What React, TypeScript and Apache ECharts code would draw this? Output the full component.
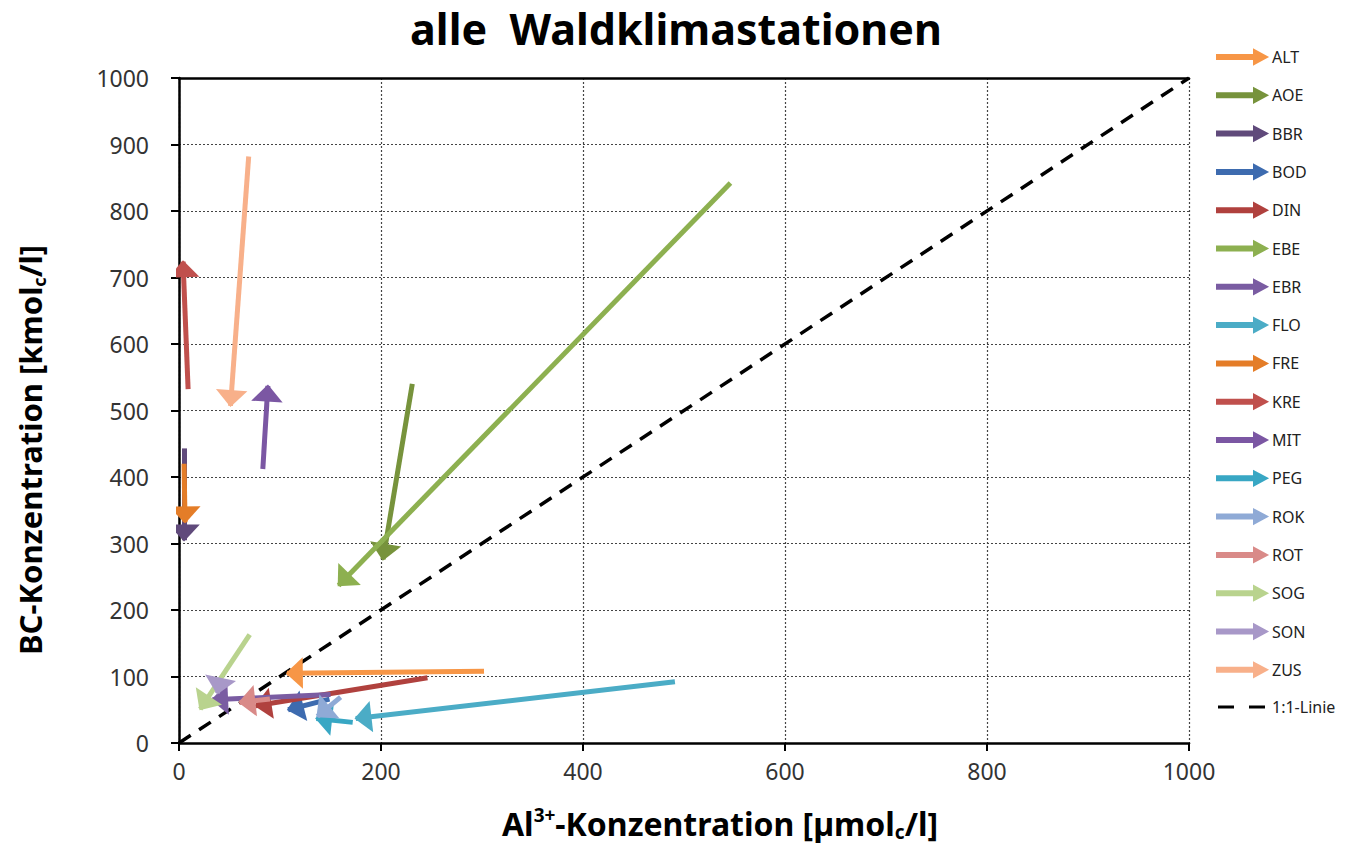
import React, { useEffect, useRef } from "react";
import * as echarts from "echarts";

const stations = ["ALT", "AOE", "BBR", "BOD", "DIN", "EBE", "EBR", "FLO", "FRE", "KRE", "MIT", "PEG", "ROK", "ROT", "SOG", "SON", "ZUS"];
const colors = ["#F79646", "#77933C", "#604A7B", "#3D6BAF", "#B0413E", "#8DB050", "#7A5CA2", "#4BACC6", "#E47D28", "#C0504D", "#7B57A3", "#38A7C4", "#8FAAD6", "#D98A88", "#B9D38E", "#A898C8", "#F8B08A"];
const alStart = [302, 231, 5, 149, 246, 546, 150, 491, 5, 9, 83, 172, 160, 90, 70, 41, 69];
const bcStart = [108, 540, 443, 66, 98, 842, 73, 92, 420, 532, 412, 31, 69, 66, 163, 97, 882];
const alEnd = [107, 202, 5, 108, 76, 158, 33, 175, 6, 4, 88, 136, 137, 60, 21, 38, 51];
const bcEnd = [105, 276, 305, 50, 56, 237, 65, 37, 332, 724, 537, 37, 40, 61, 51, 75, 507];
const diagonal = [[0, 0], [1000, 1000]];
const xTicks = { min: 0, max: 1000, interval: 200 };
const yTicks = { min: 0, max: 1000, interval: 100 };

const arrowIcon = "path://M0,0M50,18M0,7L37,7L37,2L50,9L37,16L37,11L0,11Z";
const dashIcon = "path://M0,0M50,18M1,7.5L17,7.5L17,10.5L1,10.5ZM32,7.5L48,7.5L48,10.5L32,10.5Z";
// triangle whose apex sits near the centre of its bounding box, so the tip lands on the end point
const headSymbol = "path://M10,-17M10,0L20,20L0,20Z";

export default function App() {
  const ref = useRef<HTMLDivElement>(null);
  useEffect(() => {
    const chart = echarts.init(ref.current!, null, { renderer: "svg" });
    const arrowSeries = stations.map((name, i) => ({
      name,
      type: "lines",
      coordinateSystem: "cartesian2d",
      symbol: ["none", headSymbol],
      symbolSize: [17, 31.5],
      lineStyle: { color: colors[i], width: 5, opacity: 1, cap: "butt" },
      itemStyle: { color: colors[i] },
      color: colors[i],
      z: 5,
      data: [{ coords: [[alStart[i], bcStart[i]], [alEnd[i], bcEnd[i]]] }],
    }));
    const labelFmt = (v: number) => String(v);
    const option: any = {
      animation: false,
      backgroundColor: "#ffffff",
      title: {
        text: "alle  Waldklimastationen",
        left: "center",
        top: 2,
        textStyle: { fontFamily: "Noto Sans", fontWeight: "bold", fontSize: 43, color: "#000" },
      },
      legend: {
        orient: "vertical",
        left: 1211,
        top: 42,
        itemWidth: 50,
        itemHeight: 18,
        itemGap: 18.3,
        textStyle: { fontFamily: "Noto Sans", fontSize: 16, color: "#222", lineHeight: 18 },
        data: [
          ...stations.map((name) => ({ name, icon: arrowIcon })),
          { name: "1:1-Linie", icon: dashIcon },
        ],
      },
      grid: { left: 179, right: 163, top: 78, bottom: 100, containLabel: false },
      xAxis: [
        {
          type: "value",
          ...xTicks,
          axisLine: { show: true, onZero: false, lineStyle: { color: "#000", width: 2.5 } },
          axisTick: { show: true, length: 8, lineStyle: { color: "#000", width: 2 } },
          axisLabel: { margin: 16, fontFamily: "Noto Sans", fontSize: 23, color: "#333", formatter: labelFmt },
          splitLine: { show: true, lineStyle: { color: "#444", width: 1.2, type: [2, 2] } },
        },
        {
          type: "value",
          position: "top",
          ...xTicks,
          axisLine: { show: true, onZero: false, lineStyle: { color: "#000", width: 2.5 } },
          axisTick: { show: false },
          axisLabel: { show: false },
          splitLine: { show: false },
        },
      ],
      yAxis: {
        type: "value",
        ...yTicks,
        axisLine: { show: true, onZero: false, lineStyle: { color: "#000", width: 2.5 } },
        axisTick: { show: true, length: 8, lineStyle: { color: "#000", width: 2 } },
        axisLabel: { margin: 30, fontFamily: "Noto Sans", fontSize: 23, color: "#333", formatter: labelFmt },
        splitLine: { show: true, lineStyle: { color: "#444", width: 1.2, type: [2, 2] } },
      },
      graphic: [
        {
          type: "text",
          x: 30,
          y: 450,
          rotation: Math.PI / 2,
          style: {
            text: "BC-Konzentration [kmol{sub|c}/l]",
            fontFamily: "Noto Sans",
            fontWeight: "bold",
            fontSize: 31,
            lineHeight: 36,
            fill: "#000",
            align: "center",
            verticalAlign: "middle",
            rich: {
              sub: { fontFamily: "Noto Sans", fontWeight: "bold", fontSize: 18, verticalAlign: "bottom", fill: "#000" },
            },
          },
        },
        {
          type: "text",
          x: 720,
          y: 823,
          style: {
            text: "Al{sup|3+}-Konzentration [µmol{sub|c}/l]",
            fontFamily: "Noto Sans",
            fontWeight: "bold",
            fontSize: 32,
            lineHeight: 36,
            fill: "#000",
            align: "center",
            verticalAlign: "middle",
            rich: {
              sup: { fontFamily: "Noto Sans", fontWeight: "bold", fontSize: 19, verticalAlign: "top", fill: "#000" },
              sub: { fontFamily: "Noto Sans", fontWeight: "bold", fontSize: 19, verticalAlign: "bottom", fill: "#000" },
            },
          },
        },
      ],
      series: [
        ...arrowSeries,
        {
          name: "1:1-Linie",
          type: "line",
          data: diagonal,
          symbol: "none",
          color: "#000",
          z: 3,
          lineStyle: { color: "#000", width: 3.5, type: [14, 10] },
        },
      ],
    };
    chart.setOption(option);
    return () => chart.dispose();
  }, []);
  return <div ref={ref} style={{ position: "absolute", left: 0, top: 0, width: 1352, height: 843 }} />;
}
